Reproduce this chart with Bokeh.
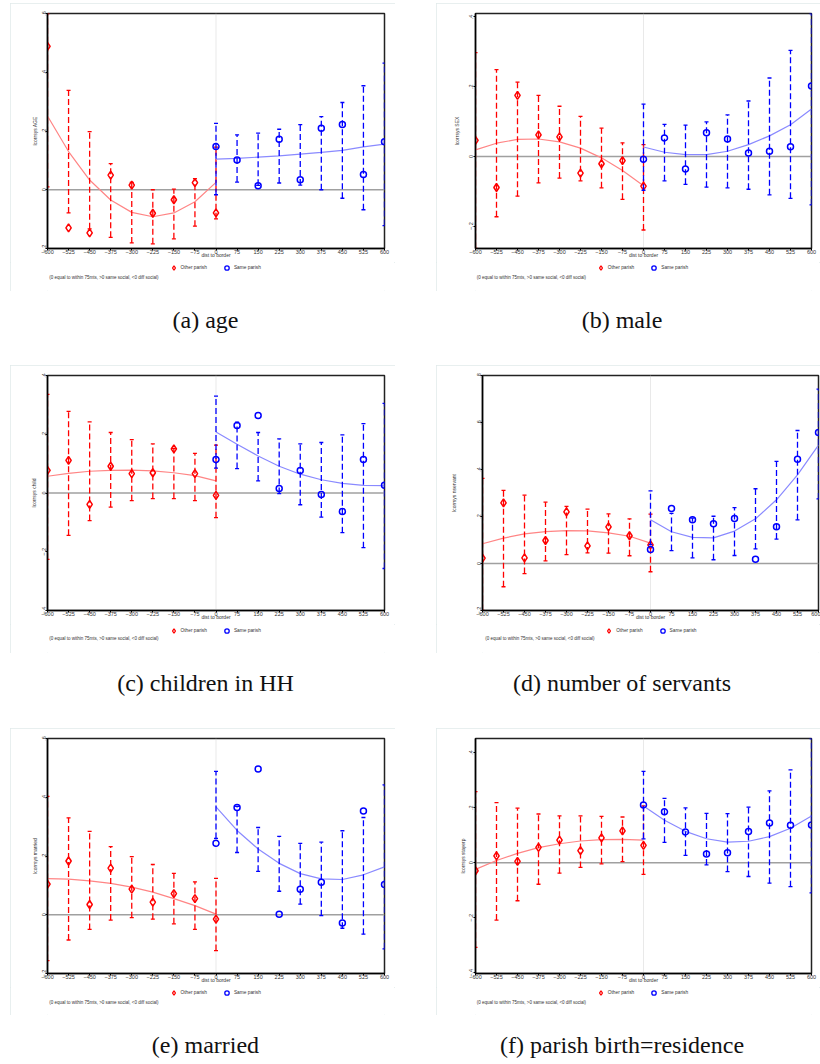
import numpy as np
from bokeh.plotting import figure
from bokeh.models import (FixedTicker, CustomJSTickFormatter, Span, Legend, LegendItem,
                          Label, Div, Spacer)
from bokeh.layouts import row, column
from bokeh.embed import file_html
from bokeh.resources import INLINE

# ---------------- data ----------------
dist_other = [-600, -525, -450, -375, -300, -225, -150, -75, 0]
dist_same = [0, 75, 150, 225, 300, 375, 450, 525, 600]
x_ticks = [-600, -525, -450, -375, -300, -225, -150, -75, 0, 75, 150, 225, 300, 375, 450, 525, 600]
legend_labels = ["Other parish", "Same parish"]
note_text = "(0 equal to within 75mts, >0 same social, <0 diff social)"
captions = ["(a) age", "(b) male", "(c) children in HH", "(d) number of servants",
            "(e) married", "(f) parish birth=residence"]
ylabels = ["lcorrsys AGE", "lcorrsys SEX", "lcorrsys child", "lcorrsys nservant",
           "lcorrsys married", "lcorrsys stayerp"]

# (a) age
a_yrange = (-0.2, 0.6)
a_yticks = [-0.2, 0, 0.2, 0.4, 0.6]
a_oth_pt = [0.488, -0.130, -0.147, 0.050, 0.016, -0.080, -0.034, 0.024, -0.079]
a_oth_hi = [0.600, 0.338, 0.198, 0.089, 0.025, 0.000, 0.002, 0.038, 0.145]
a_oth_lo = [0.010, -0.079, -0.133, -0.162, -0.181, -0.184, -0.167, -0.124, -0.099]
a_oth_fit = [0.251, 0.130, 0.033, -0.035, -0.077, -0.092, -0.079, -0.041, 0.025]
a_sam_pt = [0.147, 0.101, 0.014, 0.172, 0.034, 0.209, 0.222, 0.052, 0.163]
a_sam_hi = [0.226, 0.187, 0.193, 0.206, 0.222, 0.249, 0.297, 0.354, 0.431]
a_sam_lo = [-0.017, 0.026, 0.015, 0.023, 0.016, 0.000, -0.029, -0.068, -0.122]
a_sam_fit = [0.104, 0.107, 0.111, 0.115, 0.121, 0.127, 0.134, 0.146, 0.155]

# (b) male
b_yrange = (-0.264, 0.41)
b_yticks = [-0.2, 0, 0.2, 0.4]
b_oth_pt = [0.046, -0.089, 0.175, 0.062, 0.056, -0.048, -0.021, -0.012, -0.085]
b_oth_hi = [0.298, 0.249, 0.213, 0.175, 0.144, 0.115, 0.081, 0.039, 0.034]
b_oth_lo = [-0.264, -0.173, -0.114, -0.076, -0.062, -0.070, -0.090, -0.123, -0.211]
b_oth_fit = [0.019, 0.038, 0.049, 0.050, 0.042, 0.024, -0.004, -0.040, -0.084]
b_sam_pt = [-0.008, 0.053, -0.036, 0.068, 0.050, 0.010, 0.015, 0.028, 0.202]
b_sam_hi = [0.150, 0.092, 0.090, 0.099, 0.119, 0.159, 0.225, 0.304, 0.41]
b_sam_lo = [-0.097, -0.070, -0.080, -0.088, -0.090, -0.094, -0.110, -0.120, -0.139]
b_sam_fit = [0.027, 0.012, 0.005, 0.005, 0.015, 0.034, 0.059, 0.091, 0.136]

# (c) children in HH
c_yrange = (-0.4, 0.4)
c_yticks = [-0.4, -0.2, 0, 0.2, 0.4]
c_oth_pt = [0.077, 0.111, -0.039, 0.091, 0.066, 0.069, 0.150, 0.066, -0.008]
c_oth_hi = [0.336, 0.278, 0.242, 0.206, 0.182, 0.167, 0.152, 0.135, 0.163]
c_oth_lo = [-0.226, -0.144, -0.094, -0.048, -0.026, -0.019, -0.019, -0.026, -0.084]
c_oth_fit = [0.057, 0.067, 0.074, 0.077, 0.078, 0.075, 0.069, 0.059, 0.041]
c_sam_pt = [0.114, 0.230, 0.264, 0.015, 0.077, -0.005, -0.063, 0.114, 0.026]
c_sam_hi = [0.330, 0.241, 0.206, 0.184, 0.167, 0.172, 0.198, 0.236, 0.305]
c_sam_lo = [0.085, 0.083, 0.041, -0.002, -0.040, -0.082, -0.135, -0.186, -0.257]
c_sam_fit = [0.208, 0.166, 0.126, 0.091, 0.064, 0.045, 0.033, 0.026, 0.025]

# (d) number of servants
d_yrange = (-0.2, 0.8)
d_yticks = [-0.2, 0, 0.2, 0.4, 0.6, 0.8]
d_oth_pt = [0.023, 0.258, 0.024, 0.098, 0.220, 0.075, 0.156, 0.118, 0.079]
d_oth_hi = [0.362, 0.311, 0.291, 0.261, 0.243, 0.231, 0.211, 0.190, 0.210]
d_oth_lo = [-0.200, -0.099, -0.043, 0.011, 0.038, 0.045, 0.044, 0.033, -0.035]
d_oth_fit = [0.084, 0.108, 0.126, 0.136, 0.140, 0.139, 0.130, 0.116, 0.087]
d_sam_pt = [0.060, 0.234, 0.186, 0.169, 0.191, 0.018, 0.156, 0.444, 0.557]
d_sam_hi = [0.309, 0.213, 0.193, 0.201, 0.238, 0.318, 0.435, 0.566, 0.742]
d_sam_lo = [0.080, 0.055, 0.024, 0.016, 0.034, 0.062, 0.104, 0.186, 0.275]
d_sam_fit = [0.186, 0.135, 0.111, 0.109, 0.138, 0.190, 0.271, 0.377, 0.504]

# (e) married
e_yrange = (-0.2, 0.6)
e_yticks = [-0.2, 0, 0.2, 0.4, 0.6]
e_oth_pt = [0.104, 0.183, 0.035, 0.159, 0.087, 0.043, 0.072, 0.055, -0.015]
e_oth_hi = [0.403, 0.330, 0.284, 0.232, 0.198, 0.171, 0.141, 0.112, 0.124]
e_oth_lo = [-0.156, -0.086, -0.050, -0.018, -0.010, -0.015, -0.031, -0.050, -0.122]
e_oth_fit = [0.123, 0.121, 0.115, 0.107, 0.094, 0.077, 0.055, 0.031, 0.002]
e_sam_pt = [0.243, 0.365, 0.496, 0.002, 0.087, 0.111, -0.028, 0.353, 0.103]
e_sam_hi = [0.488, 0.369, 0.297, 0.267, 0.243, 0.247, 0.286, 0.331, 0.442]
e_sam_lo = [0.260, 0.212, 0.148, 0.080, 0.036, -0.003, -0.046, -0.066, -0.116]
e_sam_fit = [0.367, 0.287, 0.224, 0.175, 0.140, 0.122, 0.120, 0.136, 0.163]

# (f) parish birth = residence
f_yrange = (-0.402, 0.451)
f_yticks = [-0.4, -0.2, 0, 0.2, 0.4]
f_oth_pt = [-0.029, 0.025, 0.005, 0.056, 0.082, 0.044, 0.090, 0.116, 0.063]
f_oth_hi = [0.258, 0.218, 0.198, 0.177, 0.170, 0.170, 0.168, 0.166, 0.206]
f_oth_lo = [-0.307, -0.208, -0.138, -0.078, -0.038, -0.017, -0.004, 0.004, -0.042]
f_oth_fit = [-0.024, 0.008, 0.034, 0.055, 0.069, 0.079, 0.084, 0.085, 0.082]
f_sam_pt = [0.210, 0.185, 0.112, 0.032, 0.036, 0.113, 0.144, 0.136, 0.137]
f_sam_hi = [0.332, 0.234, 0.199, 0.179, 0.178, 0.202, 0.261, 0.337, 0.451]
f_sam_lo = [0.087, 0.074, 0.027, -0.008, -0.032, -0.050, -0.074, -0.087, -0.109]
f_sam_fit = [0.206, 0.154, 0.114, 0.087, 0.075, 0.078, 0.095, 0.125, 0.170]

# ---------------- styling ----------------
RED = "#ff0000"
BLUE = "#0000ff"
RED_FIT = "#ff8585"
BLUE_FIT = "#8a8aff"
SANS = "Liberation Sans"
SERIF = "Liberation Serif"
TXT = "#333333"
BOX = {"outline": "1px solid #e0eaea", "outline-offset": "-1px"}

x_fmt_code = """
return tick < 0 ? "\\u2212" + Math.abs(tick) : String(tick);
"""
y_fmt_code = """
if (Math.abs(tick) < 1e-9) { return "0"; }
var s = Math.abs(tick).toFixed(1).replace(/^0/, "");
return tick < 0 ? "\\u2212" + s : s;
"""


def make_main(ylabel, yrange, yticks, oth, sam, width, mb, ystand):
    p = figure(width=width, height=259, x_range=(-600, 600), y_range=yrange,
               output_backend="svg", toolbar_location=None,
               min_border_left=mb[0], min_border_right=mb[1],
               min_border_top=10, min_border_bottom=14)
    p.xgrid.visible = False
    p.ygrid.visible = False
    p.outline_line_color = "#222222"
    p.outline_line_width = 1.5
    p.background_fill_color = "white"
    p.border_fill_color = "white"

    for ax in (p.xaxis[0], p.yaxis[0]):
        ax.axis_line_color = "black"
        ax.axis_line_width = 1.5
        ax.major_tick_out = 2
        ax.major_tick_in = 0
        ax.minor_tick_out = 0
        ax.minor_tick_in = 0
        ax.major_tick_line_width = 1
        ax.major_label_text_font = SANS
        ax.major_label_text_font_size = "5.5px"
        ax.major_label_text_color = TXT
        ax.axis_label_text_font = SANS
        ax.axis_label_text_font_size = "5px"
        ax.axis_label_text_font_style = "normal"
        ax.axis_label_text_color = TXT
        ax.major_label_standoff = 0

    p.xaxis.ticker = FixedTicker(ticks=x_ticks)
    p.xaxis.formatter = CustomJSTickFormatter(code=x_fmt_code)
    p.xaxis.major_label_standoff = -1
    p.xaxis.axis_label = "dist to border"
    p.xaxis.axis_label_standoff = -5

    p.yaxis.ticker = FixedTicker(ticks=yticks)
    p.yaxis.formatter = CustomJSTickFormatter(code=y_fmt_code)
    p.yaxis.major_label_orientation = "vertical"
    p.yaxis.axis_label = ylabel
    p.yaxis.axis_label_standoff = ystand

    p.add_layout(Span(location=0, dimension="width", line_color="#a0a0a0",
                      line_width=1.5, level="underlay"))
    p.add_layout(Span(location=0, dimension="height", line_color="#c8c8c8",
                      line_width=0.8, line_dash="1 1", level="underlay"))

    for (d, pt, hi, lo, fit), col, fcol, marker, msize in (
            (oth, RED, RED_FIT, "diamond", 8), (sam, BLUE, BLUE_FIT, "circle", 6)):
        p.line(d, fit, line_color=fcol, line_width=1.2)
        p.segment(x0=d, y0=lo, x1=d, y1=hi, line_color=col, line_width=1.3, line_dash="6 3")
        p.scatter(d, hi, marker="dash", size=4, line_color=col, line_width=1.3)
        p.scatter(d, lo, marker="dash", size=4, line_color=col, line_width=1.3)
        p.scatter(d, pt, marker=marker, size=msize, fill_color=None,
                  line_color=col, line_width=1.5)
    return p


def make_key(width, height, leg_x, leg_y, note_x, note_y):
    # the layout aligns this key's frame with the main plot's frame above it,
    # so positions are given relative to that frame
    q = figure(width=width, height=height, x_range=(0, 1), y_range=(0, 1),
               x_axis_type=None, y_axis_type=None, output_backend="svg",
               toolbar_location=None, min_border=0)
    q.outline_line_color = None
    q.grid.visible = False
    # key-only renderers (a single undefined point, so nothing shows in the key area)
    r1 = q.scatter(x=np.array([0.5]), y=np.array([np.nan]), marker="diamond",
                   fill_color=None, line_color=RED, line_width=1.3)
    r2 = q.scatter(x=np.array([0.5]), y=np.array([np.nan]), marker="circle",
                   fill_color=None, line_color=BLUE, line_width=1.3)
    legend = Legend(items=[LegendItem(label=legend_labels[0], renderers=[r1]),
                           LegendItem(label=legend_labels[1], renderers=[r2])],
                    orientation="horizontal", location=(leg_x, leg_y),
                    label_text_font=SANS, label_text_font_size="4.8px",
                    label_text_color=TXT, label_text_baseline="middle",
                    glyph_width=11, glyph_height=11, label_standoff=2, spacing=14,
                    padding=0, margin=0, border_line_color=None,
                    background_fill_alpha=0, label_height=8)
    q.add_layout(legend)
    q.add_layout(Label(x=note_x, y=note_y, x_units="screen", y_units="screen",
                       text=note_text, text_font=SANS, text_font_size="4.5px",
                       text_color=TXT, text_baseline="middle"))
    return q


def panel(main, key):
    return column(main, key, styles=BOX)


pa = panel(make_main(ylabels[0], a_yrange, a_yticks,
                     (dist_other, a_oth_pt, a_oth_hi, a_oth_lo, a_oth_fit),
                     (dist_same, a_sam_pt, a_sam_hi, a_sam_lo, a_sam_fit),
                     385, (37, 11), 1),
           make_key(385, 29, 120.5, 18.5, 1.7, 14))
pb = panel(make_main(ylabels[1], b_yrange, b_yticks,
                     (dist_other, b_oth_pt, b_oth_hi, b_oth_lo, b_oth_fit),
                     (dist_same, b_sam_pt, b_sam_hi, b_sam_lo, b_sam_fit),
                     384, (39, 9), 7),
           make_key(384, 29, 119.8, 18.5, 1.3, 14))
pc = panel(make_main(ylabels[2], c_yrange, c_yticks,
                     (dist_other, c_oth_pt, c_oth_hi, c_oth_lo, c_oth_fit),
                     (dist_same, c_sam_pt, c_sam_hi, c_sam_lo, c_sam_fit),
                     385, (37, 11), 2),
           make_key(385, 29, 120.5, 17.5, 1.7, 14.7))
pd_ = panel(make_main(ylabels[3], d_yrange, d_yticks,
                      (dist_other, d_oth_pt, d_oth_hi, d_oth_lo, d_oth_fit),
                      (dist_same, d_sam_pt, d_sam_hi, d_sam_lo, d_sam_fit),
                      384, (46, 2), 17),
            make_key(384, 29, 121.2, 17.5, 2.7, 14.7))
pe = panel(make_main(ylabels[4], e_yrange, e_yticks,
                     (dist_other, e_oth_pt, e_oth_hi, e_oth_lo, e_oth_fit),
                     (dist_same, e_sam_pt, e_sam_hi, e_sam_lo, e_sam_fit),
                     385, (37, 11), 1),
           make_key(385, 28, 120.5, 17.5, 1.7, 13.3))
pf = panel(make_main(ylabels[5], f_yrange, f_yticks,
                     (dist_other, f_oth_pt, f_oth_hi, f_oth_lo, f_oth_fit),
                     (dist_same, f_sam_pt, f_sam_hi, f_sam_lo, f_sam_fit),
                     384, (39, 9), 1),
           make_key(384, 28, 119.8, 17.5, 1.3, 13.3))


def caption(text, width, height, top):
    html = ('<div style="width:%dpx;text-align:center;margin-top:%dpx;'
            'font-family:\'%s\';font-size:24px;line-height:26px;color:#111;'
            'white-space:nowrap;">%s</div>'
            % (width, top, SERIF, text))
    return Div(text=html, width=width, height=height, margin=(0, 0, 0, 0))


def cap_row(t1, t2, height, top):
    return row(Spacer(width=10, height=height), caption(t1, 391, height, top),
               Spacer(width=35, height=height), caption(t2, 372, height, top))


def panel_row(left, right):
    return row(Spacer(width=10), left, Spacer(width=41), right)


layout = column(
    Spacer(height=3),
    panel_row(pa, pb),
    cap_row(captions[0], captions[1], 74, 16),
    panel_row(pc, pd_),
    cap_row(captions[2], captions[3], 75, 17),
    panel_row(pe, pf),
    cap_row(captions[4], captions[5], 45, 17),
)

open("out.html", "w").write(file_html(layout, INLINE))
